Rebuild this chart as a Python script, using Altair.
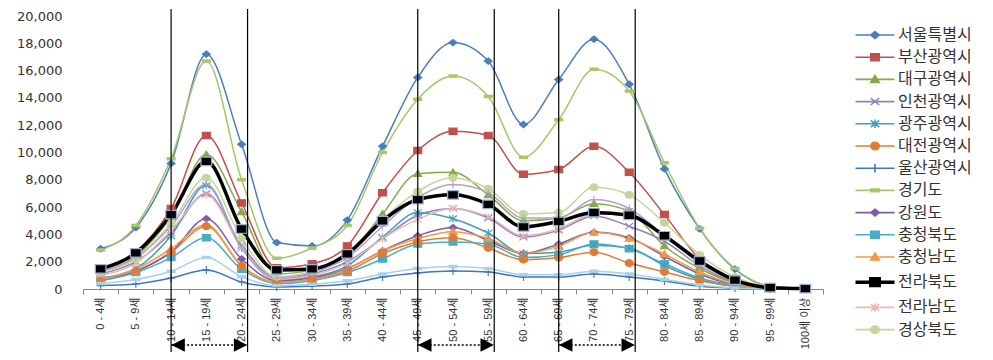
import altair as alt
import pandas as pd

ages = ["0 - 4세", "5 - 9세", "10 - 14세", "15 - 19세", "20 - 24세", "25 - 29세",
        "30 - 34세", "35 - 39세", "40 - 44세", "45 - 49세", "50 - 54세", "55 - 59세",
        "60 - 64세", "65 - 69세", "70 - 74세", "75 - 79세", "80 - 84세", "85 - 89세",
        "90 - 94세", "95 - 99세", "100세 이상"]

regions = ["서울특별시", "부산광역시", "대구광역시", "인천광역시", "광주광역시", "대전광역시",
           "울산광역시", "경기도", "강원도", "충청북도", "충청남도", "전라북도", "전라남도",
           "경상북도", "경상남도", "제주특별자치도"]
legend_regions = regions[:14]

seoul     = [2950, 4500, 9200, 17200, 10600, 3400, 3150, 5050, 10450, 15500, 18050, 16700, 12050, 15350, 18300, 15000, 8800, 4400, 1450, 200, 30]
busan     = [1500, 2700, 5900, 11250, 6300, 1550, 1850, 3150, 7050, 10150, 11550, 11250, 8400, 8750, 10450, 8550, 5450, 2200, 700, 130, 20]
daegu     = [1300, 2400, 5300, 9850, 5650, 1100, 1400, 2500, 5500, 8450, 8550, 6900, 5000, 5200, 6250, 5700, 3150, 1500, 450, 80, 10]
incheon   = [1100, 2000, 4100, 7000, 3200, 800, 1100, 2000, 3700, 5400, 5900, 5200, 3800, 4300, 5350, 4600, 3500, 1700, 500, 80, 10]
gwangju   = [800, 1500, 3900, 7600, 3000, 700, 900, 1700, 3800, 5600, 5150, 4100, 2600, 2700, 3200, 3000, 1700, 700, 200, 30, 5]
daejeon   = [600, 1300, 2700, 4600, 1700, 500, 700, 1300, 2600, 3450, 3750, 3000, 2150, 2300, 2700, 1900, 1250, 600, 200, 30, 5]
ulsan     = [250, 370, 800, 1400, 520, 150, 220, 370, 880, 1180, 1320, 1250, 880, 880, 1100, 880, 590, 200, 60, 10, 2]
gyeonggi  = [2850, 4650, 9550, 16700, 8000, 2250, 3000, 4650, 10000, 13900, 15600, 14100, 9650, 12400, 16100, 14500, 9250, 4450, 1500, 220, 30]
gangwon   = [700, 1300, 2700, 5150, 2200, 600, 800, 1500, 2800, 3900, 4500, 3550, 2600, 3300, 4150, 3750, 2400, 1100, 300, 50, 5]
chungbuk  = [600, 1200, 2300, 3750, 1450, 400, 600, 1200, 2200, 3300, 3450, 3300, 2300, 2500, 3300, 2950, 1850, 800, 250, 40, 5]
chungnam  = [700, 1450, 2950, 4700, 1700, 500, 700, 1450, 2800, 3700, 4200, 3700, 2600, 3150, 4150, 3700, 2550, 1250, 350, 60, 5]
jeonbuk   = [1470, 2650, 5450, 9350, 4400, 1400, 1470, 2570, 5000, 6550, 6900, 6200, 4550, 4950, 5600, 5400, 3900, 2050, 650, 100, 30]
jeonnam   = [1000, 1900, 4300, 6900, 3000, 700, 1000, 1900, 3700, 5100, 5900, 5300, 3900, 4400, 5500, 5400, 4000, 2100, 700, 120, 20]
gyeongbuk = [1200, 2200, 4800, 8150, 3700, 900, 1300, 2650, 5100, 7150, 8150, 7350, 5500, 5600, 7450, 6900, 4850, 2500, 880, 150, 20]
gyeongnam = [1300, 2300, 4600, 7700, 3000, 800, 1200, 2300, 4600, 6700, 7650, 7050, 5200, 5200, 6550, 5900, 3900, 1900, 600, 100, 15]
jeju      = [400, 700, 1300, 2300, 900, 250, 350, 600, 1100, 1500, 1650, 1500, 1050, 1050, 1300, 1100, 700, 300, 80, 15, 2]

series = [seoul, busan, daegu, incheon, gwangju, daejeon, ulsan, gyeonggi, gangwon,
          chungbuk, chungnam, jeonbuk, jeonnam, gyeongbuk, gyeongnam, jeju]

colors = ["#4A7EBB", "#C0504D", "#86A94B", "#9382B5", "#3F9FB5", "#E07B35", "#3F76C0",
          "#A7C76A", "#7C5FA6", "#4BACC6", "#F79646", "#000000", "#E6B9B8", "#C3D69B",
          "#B3A2C7", "#A9D2E3"]
kinds = ["diamond", "square", "triangle", "x", "asterisk", "circle", "plus", "dash",
         "diamond", "square", "triangle", "square", "asterisk", "circle", "plus", "dash"]

arrow_from = ["10 - 14세", "45 - 49세", "65 - 69세"]
arrow_to = ["20 - 24세", "55 - 59세", "75 - 79세"]


def mpath(kind, sx, sy):
    if kind == "diamond":
        return f"M0,{-0.8*sy}L{sx},0L0,{0.8*sy}L{-sx},0Z"
    if kind == "square":
        return f"M{-sx},{-0.8*sy}L{sx},{-0.8*sy}L{sx},{0.8*sy}L{-sx},{0.8*sy}Z"
    if kind == "triangle":
        return f"M0,{-0.9*sy}L{sx},{0.7*sy}L{-sx},{0.7*sy}Z"
    if kind == "x":
        return f"M{-sx},{-0.8*sy}L{sx},{0.8*sy}M{-sx},{0.8*sy}L{sx},{-0.8*sy}"
    if kind == "asterisk":
        return (f"M{-sx},{-0.8*sy}L{sx},{0.8*sy}M{-sx},{0.8*sy}L{sx},{-0.8*sy}"
                f"M0,{-sy}L0,{sy}")
    if kind == "circle":
        return f"M{-sx},0A{sx},{0.85*sy},0,1,0,{sx},0A{sx},{0.85*sy},0,1,0,{-sx},0Z"
    if kind == "plus":
        return f"M{-sx},0L{sx},0M0,{-sy}L0,{sy}"
    return f"M{-sx},{-0.3*sy}L{sx},{-0.3*sy}L{sx},{0.3*sy}L{-sx},{0.3*sy}Z"


legend_shapes = ["M-3.9,0L3.9,0" + mpath(k, 0.85, 0.85) for k in kinds[:14]]

rows = []
for r, vals in zip(regions, series):
    for a, v in zip(ages, vals):
        rows.append({"region": r, "age": a, "value": v})
df = pd.DataFrame(rows)

arrow_rows = []
for i, (a, b) in enumerate(zip(arrow_from, arrow_to)):
    arrow_rows.append({"pair": i, "age": a, "side": "left"})
    arrow_rows.append({"pair": i, "age": b, "side": "right"})
arrows = pd.DataFrame(arrow_rows)

FONT_Y = "DejaVu Sans"
FONT_X = "Liberation Sans, Noto Sans CJK KR"
FONT_L = "Noto Sans CJK KR"

x_scale = alt.Scale(type="band", domain=ages, paddingInner=0, paddingOuter=0)
x_axis = alt.Axis(title=None, labelAngle=-90, tickBand="extent", labelFont=FONT_X,
                  labelFontSize=11, labelColor="#333333", domainColor="#868686",
                  tickColor="#868686", tickSize=5, labelPadding=3, grid=False)
y_axis = alt.Axis(title=None, values=list(range(0, 20001, 2000)), format=",d",
                  domain=False, ticks=False, grid=False, labelFont=FONT_Y,
                  labelFontSize=13, labelColor="#333333", labelPadding=21, minExtent=75)


def xenc(field="age"):
    return alt.X(f"{field}:N", scale=x_scale, axis=x_axis)


yenc = alt.Y("value:Q", scale=alt.Scale(domain=[0, 20000]), axis=y_axis)
color_scale = alt.Scale(domain=regions, range=colors)

names_js = "[" + ",".join(f"'{r}'" for r in legend_regions) + "]"
shapes_js = "[" + ",".join(f"'{s}'" for s in legend_shapes) + "]"
legend = alt.Legend(
    title=None, values=legend_regions, orient="none", legendX=784, legendY=11,
    padding=0, symbolSize=100, labelOffset=15, rowPadding=6.2,
    labelFont=FONT_L, labelFontSize=16, labelColor="#333333", labelLimit=200,
    symbolType=alt.ExprRef(expr=f"{shapes_js}[indexof({names_js}, datum.value)]"),
    symbolFillColor=alt.ExprRef(expr="scale('color', datum.value)"),
    symbolStrokeColor=alt.ExprRef(expr="scale('color', datum.value)"),
    symbolStrokeWidth=alt.ExprRef(expr="datum.value == '전라북도' ? 3.5 : 1.6"),
    symbolOpacity=1,
)

base = alt.Chart(df)
lines = base.transform_filter(alt.datum.region != "전라북도").mark_line(
    interpolate="monotone", strokeWidth=1.5).encode(
    x=xenc(), y=yenc,
    color=alt.Color("region:N", scale=color_scale, legend=legend),
)
black_line = base.transform_filter(alt.datum.region == "전라북도").mark_line(
    interpolate="monotone", strokeWidth=3.5).encode(
    x=xenc(), y=yenc,
    color=alt.Color("region:N", scale=color_scale, legend=None),
)

point_layers = []
for kind in ["diamond", "square", "triangle", "x", "asterisk", "circle", "plus", "dash"]:
    members = [r for r, k in zip(regions, kinds) if k == kind and r != "전라북도"]
    point_layers.append(
        base.transform_filter(alt.FieldOneOfPredicate(field="region", oneOf=members))
        .mark_point(shape=mpath(kind, 1, 1), filled=True, size=64, strokeWidth=1.1,
                    opacity=1)
        .encode(x=xenc(), y=yenc,
                color=alt.Color("region:N", scale=color_scale, legend=None),
                stroke=alt.Stroke("region:N", scale=color_scale, legend=None))
    )
black_points = base.transform_filter(alt.datum.region == "전라북도").mark_point(
    shape=mpath("square", 1, 1), filled=True, size=115, strokeWidth=1.2, opacity=1,
    color="black", stroke="#9AB3D5").encode(x=xenc(), y=yenc)

arrow_data = alt.Chart(arrows)
left_rules = arrow_data.transform_filter(alt.datum.side == "left").mark_rule(
    color="black", strokeWidth=1.2).encode(
    x=xenc(), y=alt.value(-7), y2=alt.value(336))
right_rules = arrow_data.transform_filter(alt.datum.side == "right").mark_rule(
    color="black", strokeWidth=1.2, xOffset=6).encode(
    x=xenc(), y=alt.value(-7), y2=alt.value(336))

arrow_line = arrow_data.mark_line(color="black", strokeWidth=1.3,
                                  strokeDash=[2, 2]).encode(
    x=xenc(), y=alt.value(329), detail="pair:N")
arrow_left = arrow_data.transform_filter(alt.datum.side == "left").mark_point(
    shape="M-1,0L1,-1L1,1Z", filled=True, color="black", size=180, xOffset=7,
    opacity=1).encode(x=xenc(), y=alt.value(329))
arrow_right = arrow_data.transform_filter(alt.datum.side == "right").mark_point(
    shape="M1,0L-1,-1L-1,1Z", filled=True, color="black", size=180, xOffset=-1,
    opacity=1).encode(x=xenc(), y=alt.value(329))

chart = alt.layer(
    lines, black_line, *point_layers, black_points, left_rules, right_rules,
    arrow_line, arrow_left, arrow_right
).properties(
    width=740, height=273,
    padding={"left": 0, "top": 0, "right": 0, "bottom": 0},
    background="white",
).configure_view(stroke=None)

chart.save("out.html", embed_options={"renderer": "svg", "actions": False})
